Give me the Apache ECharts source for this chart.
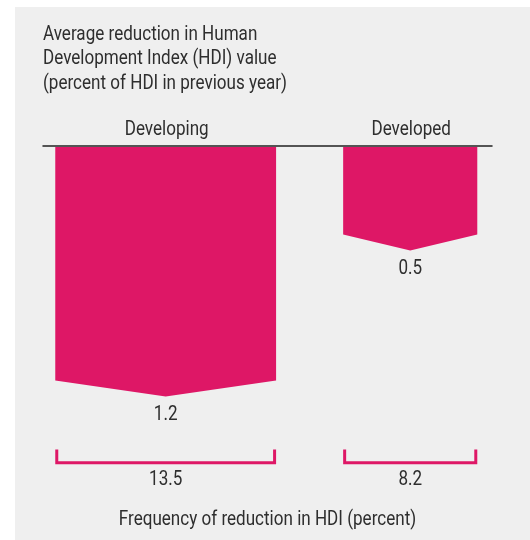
<!DOCTYPE html>
<html>
<head>
<meta charset="utf-8">
<script src="https://cdn.jsdelivr.net/npm/echarts@6/dist/echarts.min.js"></script>
<style>
html,body{margin:0;padding:0;background:#ffffff;}
#chart{width:530px;height:540px;}
</style>
</head>
<body>
<div id="chart"></div>
<script>
const categories = ['Developing', 'Developed'];
const frequency = [13.5, 8.2];          // bar width (percent)
const avgReduction = [1.2, 0.5];        // bar depth (percent of HDI)
const titleLines = ['Average reduction in Human', 'Development Index (HDI) value', '(percent of HDI in previous year)'];
const xAxisTitle = 'Frequency of reduction in HDI (percent)';

const FONT = "Roboto, 'Liberation Sans', sans-serif";
const FS = 19.5;
const SX = 0.875;
const DY = 2.2;
const PINK = '#de1766';
const TEXT = '#2e2e2e';
const GAP = 4.1;

const starts = [];
let acc = 0;
frequency.forEach((f) => { starts.push(acc); acc += f + GAP; });
const data = frequency.map((f, i) => [starts[i], starts[i] + f, avgReduction[i]]);

function txt(text, x, y, align) {
  return {
    type: 'text', x: x, y: y + DY, scaleX: SX,
    style: { text: text, x: 0, y: 0, align: align, verticalAlign: 'middle',
      fontFamily: FONT, fontSize: FS, fill: TEXT }
  };
}

const graphics = [{
  type: 'rect', shape: { x: 15, y: 7, width: 515, height: 533 },
  style: { fill: '#efefef' }, z: -10
}];
titleLines.forEach((t, i) => graphics.push(txt(t, 43, 32.5 + i * 24.6, 'left')));
graphics.push(txt(xAxisTitle, 267.5, 517.5, 'center'));

const chart = echarts.init(document.getElementById('chart'));
chart.setOption({
  backgroundColor: '#ffffff',
  graphic: graphics,
  grid: { left: 43, width: 449, top: 146, height: 334 },
  xAxis: {
    type: 'value', position: 'top', min: -0.75, max: 26.7,
    axisLine: { show: true, onZero: false, lineStyle: { color: '#222', width: 1.5 } },
    axisTick: { show: false }, axisLabel: { show: false }, splitLine: { show: false }
  },
  yAxis: { type: 'value', inverse: true, min: 0, max: 1.6, show: false },
  series: [{
    type: 'custom',
    data: data,
    clip: false,
    renderItem: function (params, api) {
      const i = params.dataIndex;
      const x0 = api.value(0), x1 = api.value(1), v = api.value(2);
      const xm = (x0 + x1) / 2;
      const pTL = api.coord([x0, 0]);
      const pTR = api.coord([x1, 0]);
      const pTip = api.coord([xm, v]);
      const notch = 16;
      const yTop = pTL[1] + 1;
      const bracketY = 462.8;
      return {
        type: 'group',
        children: [{
          type: 'polygon',
          shape: { points: [[pTL[0], yTop], [pTR[0], yTop], [pTR[0], pTip[1] - notch], [pTip[0], pTip[1]], [pTL[0], pTip[1] - notch]] },
          style: { fill: PINK }
        },
        txt(categories[i], pTip[0] + 1, 127.5, 'center'),
        txt(String(avgReduction[i]), pTip[0], pTip[1] + 16.3, 'center'),
        {
          type: 'polyline',
          shape: { points: [[pTL[0] + 1.5, 449.5], [pTL[0] + 1.5, bracketY], [pTR[0] - 1.5, bracketY], [pTR[0] - 1.5, 449.5]] },
          style: { stroke: PINK, lineWidth: 3, fill: null }
        },
        txt(String(frequency[i]), pTip[0], 477.5, 'center')]
      };
    }
  }]
});
</script>
</body>
</html>
